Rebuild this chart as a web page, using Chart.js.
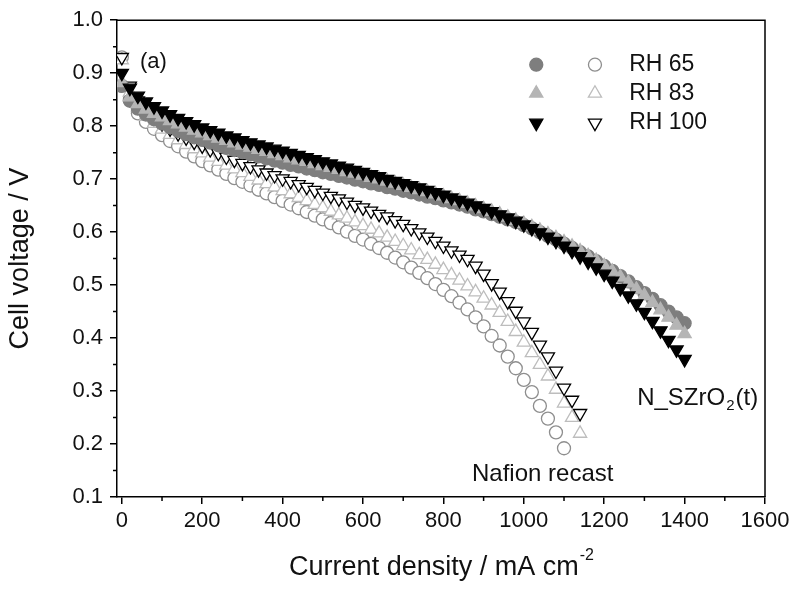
<!DOCTYPE html>
<html>
<head>
<meta charset="utf-8">
<script src="https://cdn.jsdelivr.net/npm/chart.js@4.4.0/dist/chart.umd.min.js"></script>
<style>
  body { margin: 0; background: #fff; }
</style>
</head>
<body>
<canvas id="grafico" width="800" height="591"></canvas>
<script>
// Dados (mA cm-2 / V)

var corrente = [0, 20, 40, 60, 80, 100, 120, 140, 160, 180, 200, 220, 240, 260, 280, 300, 320, 340, 360, 380,
  400, 420, 440, 460, 480, 500, 520, 540, 560, 580, 600, 620, 640, 660, 680, 700, 720, 740, 760, 780,
  800, 820, 840, 860, 880, 900, 920, 940, 960, 980, 1000, 1020, 1040, 1060, 1080, 1100, 1120, 1140, 1160, 1180,
  1200, 1220, 1240, 1260, 1280, 1300, 1320, 1340, 1360, 1380, 1400];

var szrRH65 = [0.876, 0.848, 0.833, 0.822, 0.813, 0.805, 0.798, 0.791, 0.785, 0.779, 0.774, 0.769, 0.764, 0.759, 0.755, 0.751, 0.747, 0.743, 0.739, 0.735,
  0.731, 0.727, 0.724, 0.720, 0.717, 0.713, 0.710, 0.706, 0.703, 0.699, 0.696, 0.692, 0.689, 0.685, 0.682, 0.678, 0.675, 0.671, 0.667, 0.664,
  0.660, 0.656, 0.652, 0.648, 0.643, 0.639, 0.634, 0.629, 0.624, 0.619, 0.613, 0.607, 0.600, 0.593, 0.586, 0.578, 0.570, 0.562, 0.554, 0.545,
  0.536, 0.527, 0.517, 0.507, 0.496, 0.485, 0.474, 0.462, 0.450, 0.439, 0.428];

var szrRH83 = [0.882, 0.855, 0.842, 0.832, 0.824, 0.817, 0.810, 0.804, 0.798, 0.792, 0.787, 0.782, 0.777, 0.773, 0.768, 0.764, 0.760, 0.756, 0.752, 0.748,
  0.744, 0.740, 0.736, 0.733, 0.729, 0.725, 0.722, 0.718, 0.714, 0.711, 0.707, 0.703, 0.700, 0.696, 0.692, 0.688, 0.684, 0.680, 0.676, 0.672,
  0.668, 0.663, 0.659, 0.654, 0.649, 0.644, 0.639, 0.634, 0.628, 0.622, 0.616, 0.610, 0.603, 0.596, 0.589, 0.581, 0.573, 0.564, 0.555, 0.546,
  0.536, 0.526, 0.515, 0.504, 0.492, 0.480, 0.467, 0.453, 0.439, 0.424, 0.408];

var szrRH100 = [0.900, 0.872, 0.857, 0.846, 0.837, 0.829, 0.822, 0.815, 0.809, 0.803, 0.797, 0.792, 0.787, 0.782, 0.778, 0.773, 0.769, 0.765, 0.761, 0.757,
  0.753, 0.749, 0.745, 0.741, 0.737, 0.733, 0.729, 0.725, 0.721, 0.717, 0.713, 0.709, 0.705, 0.700, 0.696, 0.692, 0.688, 0.684, 0.679, 0.675,
  0.670, 0.665, 0.660, 0.655, 0.650, 0.645, 0.639, 0.633, 0.627, 0.621, 0.614, 0.607, 0.599, 0.591, 0.583, 0.574, 0.564, 0.554, 0.544, 0.533,
  0.521, 0.508, 0.494, 0.480, 0.465, 0.449, 0.432, 0.414, 0.396, 0.378, 0.360];

var nafionRH65 = [0.930, 0.850, 0.824, 0.808, 0.795, 0.783, 0.772, 0.762, 0.752, 0.743, 0.734, 0.726, 0.718, 0.710, 0.702, 0.695, 0.688, 0.680, 0.673, 0.666,
  0.659, 0.652, 0.645, 0.638, 0.631, 0.624, 0.617, 0.609, 0.601, 0.593, 0.586, 0.578, 0.570, 0.561, 0.552, 0.543, 0.533, 0.523, 0.513, 0.502,
  0.491, 0.479, 0.467, 0.454, 0.439, 0.422, 0.404, 0.386, 0.365, 0.343, 0.321, 0.298, 0.272, 0.248, 0.222, 0.192];

var nafionRH83 = [0.925, 0.864, 0.836, 0.818, 0.805, 0.794, 0.784, 0.774, 0.765, 0.757, 0.749, 0.741, 0.733, 0.726, 0.719, 0.712, 0.705, 0.698, 0.691, 0.685,
  0.678, 0.672, 0.665, 0.659, 0.652, 0.646, 0.639, 0.632, 0.626, 0.619, 0.612, 0.605, 0.598, 0.590, 0.582, 0.574, 0.566, 0.557, 0.548, 0.539,
  0.529, 0.519, 0.509, 0.498, 0.487, 0.475, 0.462, 0.448, 0.431, 0.412, 0.392, 0.372, 0.350, 0.328, 0.303, 0.277, 0.250, 0.220];

var nafionRH100 = [0.930, 0.876, 0.848, 0.830, 0.816, 0.805, 0.795, 0.786, 0.778, 0.770, 0.763, 0.756, 0.749, 0.742, 0.736, 0.730, 0.724, 0.718, 0.712, 0.707,
  0.701, 0.696, 0.690, 0.685, 0.679, 0.674, 0.668, 0.663, 0.657, 0.651, 0.646, 0.640, 0.634, 0.629, 0.622, 0.615, 0.607, 0.599, 0.591, 0.583,
  0.574, 0.565, 0.557, 0.549, 0.536, 0.521, 0.503, 0.487, 0.469, 0.451, 0.431, 0.411, 0.387, 0.365, 0.338, 0.306, 0.283, 0.258];

var ticksX = [0, 200, 400, 600, 800, 1000, 1200, 1400, 1600];
var ticksY = [0.1, 0.2, 0.3, 0.4, 0.5, 0.6, 0.7, 0.8, 0.9, 1.0];

var rotulosUR = ['RH 65', 'RH 83', 'RH 100'];

var fonte = '"Liberation Sans", Arial, sans-serif';

function pontos(valores) {
  return valores.map(function (v, i) {
    return { x: corrente[i], y: v };
  });
}

// Séries

var serieBase = {
  showLine: false,
  pointBorderWidth: 1.3,
  pointHoverRadius: 0
};

function serie(valores, estilo, rotacao, fundo, borda, raio) {
  return Object.assign({}, serieBase, {
    data: pontos(valores),
    pointStyle: estilo,
    rotation: rotacao,
    pointRotation: rotacao,
    backgroundColor: fundo,
    borderColor: borda,
    pointBackgroundColor: fundo,
    pointBorderColor: borda,
    pointRadius: raio
  });
}

var datasets = [
  serie(szrRH100, 'triangle', 180, '#000000', '#000000', 7.6),
  serie(szrRH83, 'triangle', 0, '#b5b5b5', '#b5b5b5', 7.6),
  serie(szrRH65, 'circle', 0, '#7e7e7e', '#7e7e7e', 6.5),
  serie(nafionRH100, 'triangle', 180, '#ffffff', '#000000', 7.6),
  serie(nafionRH83, 'triangle', 0, '#ffffff', '#bdbdbd', 7.6),
  serie(nafionRH65, 'circle', 0, '#ffffff', '#8e8e8e', 6.5)
];

// Desenho extra: moldura, ticks menores, títulos, legenda

var moldura = {
  id: 'moldura',
  afterDraw: function (chart) {
    var ctx = chart.ctx;
    var area = chart.chartArea;
    var sx = chart.scales.x;
    var sy = chart.scales.y;

    ctx.save();
    ctx.strokeStyle = '#000';
    ctx.lineWidth = 1.5;
    ctx.beginPath();
    ctx.moveTo(area.left, area.top);
    ctx.lineTo(area.right, area.top);
    ctx.lineTo(area.right, area.bottom);
    ctx.stroke();

    // ticks menores
    ctx.beginPath();
    for (var v = 100; v < 1600; v += 200) {
      var px = sx.getPixelForValue(v);
      ctx.moveTo(px, area.bottom);
      ctx.lineTo(px, area.bottom + 4);
    }
    for (var w = 0.15; w < 1.0; w += 0.1) {
      var py = sy.getPixelForValue(w);
      ctx.moveTo(area.left, py);
      ctx.lineTo(area.left - 4, py);
    }
    ctx.stroke();

    ctx.fillStyle = '#111';

    // título eixo x com sobrescrito
    ctx.textBaseline = 'alphabetic';
    var tx = 'Current density / mA cm';
    var sup = '-2';
    ctx.font = '27px ' + fonte;
    var larg1 = ctx.measureText(tx).width;
    ctx.font = '16px ' + fonte;
    var larg2 = ctx.measureText(sup).width;
    var xc = (area.left + area.right) / 2;
    var x0 = xc - (larg1 + larg2) / 2;
    ctx.font = '27px ' + fonte;
    ctx.textAlign = 'left';
    ctx.fillText(tx, x0, 575);
    ctx.font = '16px ' + fonte;
    ctx.fillText(sup, x0 + larg1 + 1, 560);

    // título eixo y
    ctx.save();
    ctx.translate(28, (area.top + area.bottom) / 2);
    ctx.rotate(-Math.PI / 2);
    ctx.font = '27px ' + fonte;
    ctx.textAlign = 'center';
    ctx.fillText('Cell voltage / V', 0, 0);
    ctx.restore();

    // (a)
    ctx.font = '22px ' + fonte;
    ctx.textAlign = 'left';
    ctx.textBaseline = 'middle';
    ctx.fillText('(a)', sx.getPixelForValue(45), sy.getPixelForValue(0.922));

    // Nafion recast
    ctx.font = '24px ' + fonte;
    ctx.textAlign = 'center';
    ctx.fillText('Nafion recast', sx.getPixelForValue(1047), sy.getPixelForValue(0.142));

    // N_SZrO2(t)
    ctx.textAlign = 'left';
    var nx = sx.getPixelForValue(1282);
    var ny = sy.getPixelForValue(0.287);
    ctx.fillText('N_SZrO', nx, ny);
    var l1 = ctx.measureText('N_SZrO').width;
    ctx.font = '15px ' + fonte;
    ctx.fillText('2', nx + l1 + 1, ny + 8);
    var l2 = ctx.measureText('2').width;
    ctx.font = '24px ' + fonte;
    ctx.fillText('(t)', nx + l1 + l2 + 2, ny);

    // legenda: símbolo cheio, símbolo aberto, rótulo
    var linhas = [0.916, 0.862, 0.806];
    var cheios = [2, 1, 0];
    var abertos = [5, 4, 3];
    for (var i = 0; i < 3; i++) {
      var ly = sy.getPixelForValue(linhas[i]);
      [cheios[i], abertos[i]].forEach(function (idx, k) {
        var ds = chart.data.datasets[idx];
        ctx.fillStyle = ds.pointBackgroundColor;
        ctx.strokeStyle = ds.pointBorderColor;
        ctx.lineWidth = 1.3;
        Chart.helpers.drawPoint(ctx, {
          pointStyle: ds.pointStyle,
          rotation: ds.pointRotation,
          radius: ds.pointRadius,
          borderWidth: 1.3
        }, sx.getPixelForValue(k === 0 ? 1031 : 1177), ly);
      });
      ctx.fillStyle = '#111';
      ctx.font = '23px ' + fonte;
      ctx.textAlign = 'left';
      ctx.textBaseline = 'middle';
      ctx.fillText(rotulosUR[i], sx.getPixelForValue(1262), ly);
    }
    ctx.restore();
  }
};

var ctxGrafico = document.getElementById('grafico').getContext('2d');

var meuGrafico = new Chart(ctxGrafico, {
  type: 'scatter',
  data: { datasets: datasets },
  options: {
    responsive: false,
    animation: false,
    layout: { padding: { top: 18, right: 35, left: 0, bottom: 0 } },
    plugins: {
      legend: { display: false },
      tooltip: { enabled: false }
    },
    scales: {
      x: {
        type: 'linear',
        min: -12,
        max: 1600,
        afterFit: function (s) { s.height = 94; },
        afterBuildTicks: function (s) {
          s.ticks = ticksX.map(function (v) { return { value: v }; });
        },
        ticks: {
          autoSkip: false,
          maxRotation: 0,
          padding: 4,
          color: '#111',
          font: { family: fonte, size: 22 },
          callback: function (v) { return String(v); }
        },
        grid: {
          drawOnChartArea: false,
          tickLength: 7,
          color: '#000',
          lineWidth: 1.5
        },
        border: { color: '#000', width: 1.5 }
      },
      y: {
        min: 0.1,
        max: 1.0,
        afterFit: function (s) { s.width = 117; },
        afterBuildTicks: function (s) {
          s.ticks = ticksY.map(function (v) { return { value: v }; });
        },
        ticks: {
          autoSkip: false,
          padding: 7,
          color: '#111',
          font: { family: fonte, size: 22 },
          callback: function (v) { return v.toFixed(1); }
        },
        grid: {
          drawOnChartArea: false,
          tickLength: 7,
          color: '#000',
          lineWidth: 1.5
        },
        border: { color: '#000', width: 1.5 }
      }
    }
  },
  plugins: [moldura]
});
</script>
</body>
</html>
